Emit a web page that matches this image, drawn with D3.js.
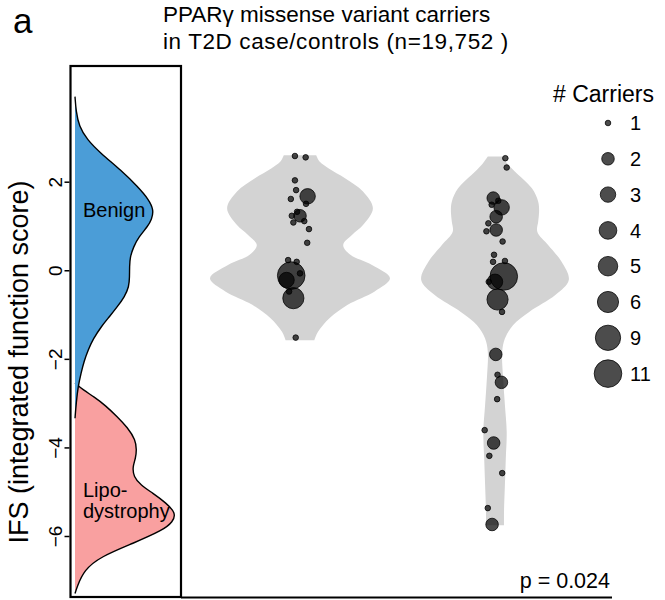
<!DOCTYPE html>
<html>
<head>
<meta charset="utf-8">
<script src="https://cdn.jsdelivr.net/npm/d3@7"></script>
<style>
  body { margin: 0; background: #fff; }
  svg { display: block; }
</style>
</head>
<body>
<script>
// ---- data -------------------------------------------------------------
const ifsTicks = [-6, -4, -2, 0, 2];

// IFS density of reference variants: [IFS, density]
const benignDensity = [
  [3.92, 0], [3.6, 0.01], [3.25, 0.04], [2.95, 0.12], [2.65, 0.25], [2.25, 0.46],
  [1.89, 0.62], [1.6, 0.73], [1.36, 0.78], [1.15, 0.76], [0.99, 0.72], [0.75, 0.63],
  [0.53, 0.58], [0.3, 0.545], [0.08, 0.54], [-0.15, 0.54], [-0.37, 0.535], [-0.6, 0.49],
  [-0.82, 0.42], [-1.05, 0.34], [-1.27, 0.26], [-1.55, 0.18], [-1.8, 0.13], [-2.05, 0.09],
  [-2.32, 0.06], [-2.63, 0.03], [-3.0, 0.012], [-3.34, 0]
];
const lipodystrophyDensity = [
  [-2.55, 0], [-2.7, 0.08], [-2.86, 0.19], [-3.05, 0.3], [-3.31, 0.42], [-3.55, 0.52],
  [-3.83, 0.6], [-4.06, 0.61], [-4.25, 0.6], [-4.44, 0.57], [-4.66, 0.58], [-4.85, 0.65],
  [-5.03, 0.77], [-5.25, 0.9], [-5.48, 1.0], [-5.68, 0.97], [-5.87, 0.87], [-6.16, 0.58],
  [-6.47, 0.25], [-6.77, 0.09], [-7.15, 0.02], [-7.3, 0]
];

const groups = ["controls", "cases"];

// violin half-width profiles: [IFS, density]
const controlsViolin = [
  [2.60, 0.18], [2.45, 0.22], [2.30, 0.32], [2.08, 0.50], [1.78, 0.70], [1.40, 0.81],
  [1.02, 0.70], [0.80, 0.58], [0.57, 0.48], [0.35, 0.56], [0.12, 0.80], [-0.18, 1.00],
  [-0.48, 0.83], [-0.78, 0.53], [-1.08, 0.33], [-1.39, 0.20], [-1.58, 0.16]
];
const casesViolin = [
  [2.57, 0.08], [2.40, 0.14], [2.23, 0.22], [1.85, 0.41], [1.55, 0.48], [1.32, 0.49],
  [1.10, 0.48], [0.87, 0.47], [0.57, 0.59], [0.19, 0.74], [-0.22, 0.82], [-0.56, 0.67],
  [-0.94, 0.38], [-1.24, 0.20], [-1.54, 0.11], [-1.84, 0.08], [-2.44, 0.09], [-3.04, 0.11],
  [-3.65, 0.13], [-4.25, 0.12], [-4.85, 0.11], [-5.46, 0.10], [-5.76, 0.10]
];

// variants: [IFS, # carriers, jitter]
const controlsVariants = [
  [2.58, 1, -0.026], [2.55, 1, 0.029], [2.03, 1, -0.026], [1.81, 1, -0.020],
  [1.67, 3, 0.039], [1.50, 1, 0.031], [1.61, 1, -0.047], [1.23, 2, 0.000],
  [1.32, 1, -0.015], [1.23, 1, -0.042], [1.08, 1, -0.034], [1.11, 1, 0.022],
  [0.93, 1, 0.046], [0.62, 1, 0.037], [0.23, 1, -0.061], [0.19, 1, -0.017],
  [-0.12, 11, -0.045], [-0.22, 3, -0.069], [-0.07, 1, 0.000], [-0.48, 1, -0.056],
  [-0.63, 6, -0.034], [-1.52, 1, -0.022]
];
const casesVariants = [
  [2.53, 1, 0.053], [2.32, 1, 0.060], [1.63, 2, -0.009], [1.57, 1, 0.017],
  [1.42, 3, 0.034], [1.48, 1, -0.017], [1.21, 2, 0.006], [1.06, 1, -0.034],
  [0.91, 2, 0.006], [0.88, 1, -0.044], [0.65, 1, 0.039], [0.35, 1, -0.005],
  [0.19, 1, -0.010], [0.21, 1, 0.051], [-0.14, 11, 0.045], [-0.26, 3, 0.000],
  [-0.26, 1, -0.032], [-0.66, 6, 0.013], [-0.94, 1, 0.036], [-1.90, 2, 0.004],
  [-2.36, 1, 0.013], [-2.53, 2, 0.033], [-2.91, 1, 0.011], [-3.61, 1, -0.053],
  [-3.90, 2, -0.007], [-4.19, 1, -0.029], [-4.58, 1, 0.037], [-5.37, 1, -0.037],
  [-5.74, 2, -0.015]
];

const carrierLevels = [1, 2, 3, 4, 5, 6, 9, 11];
const pValueText = "p = 0.024";

// ---- layout -----------------------------------------------------------
const W = 665, H = 600;
const sans = "'Liberation Sans', Arial, Helvetica, sans-serif";

const svg = d3.select("body").append("svg")
  .attr("width", W).attr("height", H)
  .attr("font-family", sans);

const y = d3.scaleLinear().domain([-6, 2]).range([536, 181.7]);
const densX = d3.scaleLinear().domain([0, 1]).range([75, 176]);
const x = d3.scaleLinear().domain([0, 1]).range([300, 495]);
const halfW = d3.scaleLinear().domain([0, 1]).range([0, 90]);
const sizeScale = d3.scaleLinear().domain([0, Math.sqrt(10)]).range([2.8, 13.8]);
const radius = n => sizeScale(Math.sqrt(n - 1));

const panel = { left: 70.5, right: 181, top: 66, bottom: 597 };

// ---- left panel: reference densities -----------------------------------
const densArea = d3.area()
  .curve(d3.curveBasis)
  .y(d => y(d[0]))
  .x0(densX(0))
  .x1(d => densX(d[1]));
const densLine = d3.line()
  .curve(d3.curveBasis)
  .y(d => y(d[0]))
  .x(d => densX(d[1]));

const dens = svg.append("g");
[[lipodystrophyDensity, "#f9a0a0"], [benignDensity, "#4b9dd7"]].forEach(([data, col]) => {
  dens.append("path").datum(data).attr("d", densArea).attr("fill", col);
  dens.append("path").datum(data).attr("d", densLine)
    .attr("fill", "none").attr("stroke", "#000").attr("stroke-width", 1.4);
});

dens.append("text").attr("x", 83).attr("y", 216.5).attr("font-size", 20).text("Benign");
dens.append("text").attr("x", 83).attr("y", 496.5).attr("font-size", 20).text("Lipo-");
dens.append("text").attr("x", 83).attr("y", 518).attr("font-size", 20).text("dystrophy");

svg.append("rect")
  .attr("x", panel.left).attr("y", panel.top)
  .attr("width", panel.right - panel.left).attr("height", panel.bottom - panel.top)
  .attr("fill", "none").attr("stroke", "#000").attr("stroke-width", 2.2);

// y axis
const yAxis = svg.append("g")
  .attr("transform", `translate(${panel.left - 1},0)`)
  .call(d3.axisLeft(y).tickValues(ifsTicks).tickSize(5).tickFormat(d3.format("d")));
yAxis.select(".domain").remove();
yAxis.selectAll(".tick line").attr("stroke", "#000").attr("stroke-width", 1.5);
yAxis.selectAll(".tick text")
  .attr("x", null).attr("dy", null)
  .attr("transform", "translate(-8,0) rotate(-90)")
  .attr("text-anchor", "middle")
  .attr("font-family", sans)
  .attr("font-size", 19)
  .attr("fill", "#000");

svg.append("text")
  .attr("transform", "translate(28,362) rotate(-90)")
  .attr("text-anchor", "middle")
  .attr("font-size", 27)
  .text("IFS (integrated function score)");

// ---- right panel: violins + variants ----------------------------------
const violin = (cx) => d3.area()
  .curve(d3.curveCatmullRom)
  .y(d => y(d[0]))
  .x0(d => cx - halfW(d[1]))
  .x1(d => cx + halfW(d[1]));

const violins = [controlsViolin, casesViolin];
const variants = [controlsVariants, casesVariants];

groups.forEach((g, i) => {
  svg.append("path").datum(violins[i])
    .attr("d", violin(x(i)))
    .attr("fill", "#d3d3d3");
});

groups.forEach((g, i) => {
  svg.append("g").selectAll("circle")
    .data(variants[i])
    .join("circle")
    .attr("cx", d => x(i + d[2]))
    .attr("cy", d => y(d[0]))
    .attr("r", d => radius(d[1]))
    .attr("fill", "#000")
    .attr("fill-opacity", 0.7)
    .attr("stroke", "#000")
    .attr("stroke-opacity", 0.75)
    .attr("stroke-width", 1);
});

// bottom axis line
svg.append("line")
  .attr("x1", panel.right).attr("x2", 612)
  .attr("y1", panel.bottom + 0.5).attr("y2", panel.bottom + 0.5)
  .attr("stroke", "#000").attr("stroke-width", 2);

svg.append("text")
  .attr("x", 610).attr("y", 588)
  .attr("text-anchor", "end")
  .attr("font-size", 21.5)
  .text(pValueText);

// ---- legend -----------------------------------------------------------
const legend = svg.append("g");
legend.append("text")
  .attr("x", 553).attr("y", 101.5)
  .attr("font-size", 23)
  .text("# Carriers");
const items = legend.selectAll("g.item")
  .data(carrierLevels)
  .join("g")
  .attr("class", "item")
  .attr("transform", (d, i) => `translate(608,${123 + i * 35.8})`);
items.append("circle")
  .attr("r", d => radius(d))
  .attr("fill", "#000").attr("fill-opacity", 0.7)
  .attr("stroke", "#000").attr("stroke-opacity", 0.75).attr("stroke-width", 1);
items.append("text")
  .attr("x", 22).attr("dy", "0.36em")
  .attr("font-size", 20)
  .text(d => d);

// ---- titles -----------------------------------------------------------
svg.append("text")
  .attr("x", 13).attr("y", 33)
  .attr("font-size", 35)
  .text("a");

const title = svg.append("text")
  .attr("font-size", 22.5);
title.append("tspan").attr("x", 163).attr("y", 21.5).text("PPARγ missense variant carriers");
title.append("tspan").attr("x", 163).attr("y", 49)
  .attr("letter-spacing", 0.6)
  .text("in T2D case/controls (n=19,752 )");
</script>
</body>
</html>
